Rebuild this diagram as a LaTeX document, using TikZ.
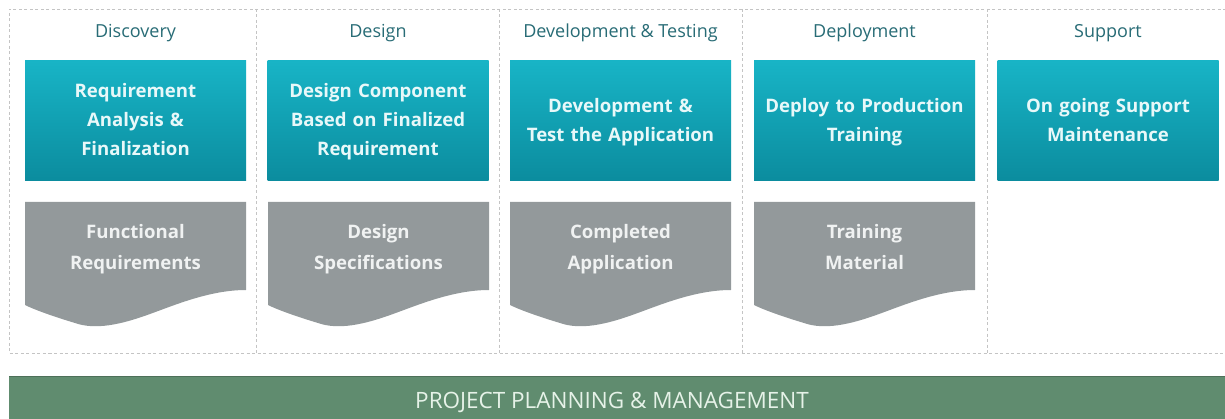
\documentclass[tikz,border=0pt]{standalone}
\usepackage{fontspec}
\setmainfont{Open Sans}
\definecolor{tealtop}{RGB}{24,180,198}
\definecolor{tealbot}{RGB}{11,140,158}
\definecolor{tealtxt}{RGB}{232,248,249}
\definecolor{titlec}{RGB}{40,108,118}
\definecolor{greyc}{RGB}{147,153,155}
\definecolor{greytxt}{RGB}{240,242,242}
\definecolor{barc}{RGB}{96,140,111}
\definecolor{bartxt}{RGB}{230,242,232}
\definecolor{dashc}{RGB}{196,196,196}
\begin{document}
\begin{tikzpicture}[x=1pt,y=-1pt,
  sep/.style={draw=dashc,line width=0.8pt,dash pattern=on 3pt off 2.5pt},
  coltitle/.style={font=\fontsize{18}{21}\selectfont,text=titlec,anchor=center},
  tealbox/.style={top color=tealtop,bottom color=tealbot,draw=none,
    minimum width=221pt,minimum height=120pt,inner sep=0pt,
    text width=219pt,align=center,text=tealtxt,
    font=\bfseries\fontsize{18.6}{29}\selectfont},
  doctxt/.style={text width=219pt,align=center,text=greytxt,inner sep=0pt,
    font=\bfseries\fontsize{18.6}{31}\selectfont,anchor=center},
  docshape/.style={fill=greyc,draw=none}
]
\useasboundingbox (0,0) rectangle (1225,419);
\fill[white] (0,0) rectangle (1225,419);
% outer dashed frame and separators
\coordinate (tl) at (9,9);
\coordinate (bl) at (9,353);
\coordinate (tr) at (1226,9);
\coordinate (br) at (1226,353);
\draw[sep] (tr) -- (tl) -- (bl) -- (br);
\foreach \x/\n in {256/a,499.5/b,742.5/c,987/d}{
  \coordinate (s\n t) at (\x,9);
  \coordinate (s\n b) at (\x,353);
  \draw[sep] (s\n t) -- (s\n b);
}
% column titles
\node[coltitle] (t1) at (135.5,33) {Discovery};
\node[coltitle] (t2) at (378,33) {Design};
\node[coltitle] (t3) at (620.5,33) {Development \& Testing};
\node[coltitle] (t4) at (864.5,33) {Deployment};
\node[coltitle] (t5) at (1108,33) {Support};
% teal boxes
\node[tealbox] (b1) at (135.5,121) {\strut Requirement\\Analysis \&\\Finalization\strut};
\node[tealbox] (b2) at (378,121) {\strut Design Component\\Based on Finalized\\Requirement\strut};
\node[tealbox] (b3) at (620.5,121) {\strut Development \&\\Test the Application\strut};
\node[tealbox] (b4) at (864.5,121) {\strut Deploy to Production\\Training\strut};
\node[tealbox] (b5) at (1108,121) {\strut On going Support\\Maintenance\strut};
% document shapes
\foreach \x/\i in {25/1,268/2,510/3,754/4}{
  \fill[docshape] (\x,202) -- (\x+221,202) -- (\x+221,290)
    .. controls (\x+185,290) and (\x+150,305) .. (\x+125,314)
    .. controls (\x+95,325) and (\x+70,330) .. (\x+50,323)
    .. controls (\x+30,317) and (\x+10,310) .. (\x,305) -- cycle;
}
\node[doctxt] (d1) at (135.5,248) {\strut Functional\\Requirements\strut};
\node[doctxt] (d2) at (378.5,248) {\strut Design\\Specifications\strut};
\node[doctxt] (d3) at (620.5,248) {\strut Completed\\Application\strut};
\node[doctxt] (d4) at (864.5,248) {\strut Training\\Material\strut};
% bottom bar
\fill[barc] (9,376) rectangle (1230,425);
\draw[barc!80!black,line width=0.8pt] (9,376.4) -- (1230,376.4);
\node[text=bartxt,font=\fontsize{22.5}{26}\selectfont] (bar) at (612,402) {PROJECT PLANNING \& MANAGEMENT};
\end{tikzpicture}
\end{document}
